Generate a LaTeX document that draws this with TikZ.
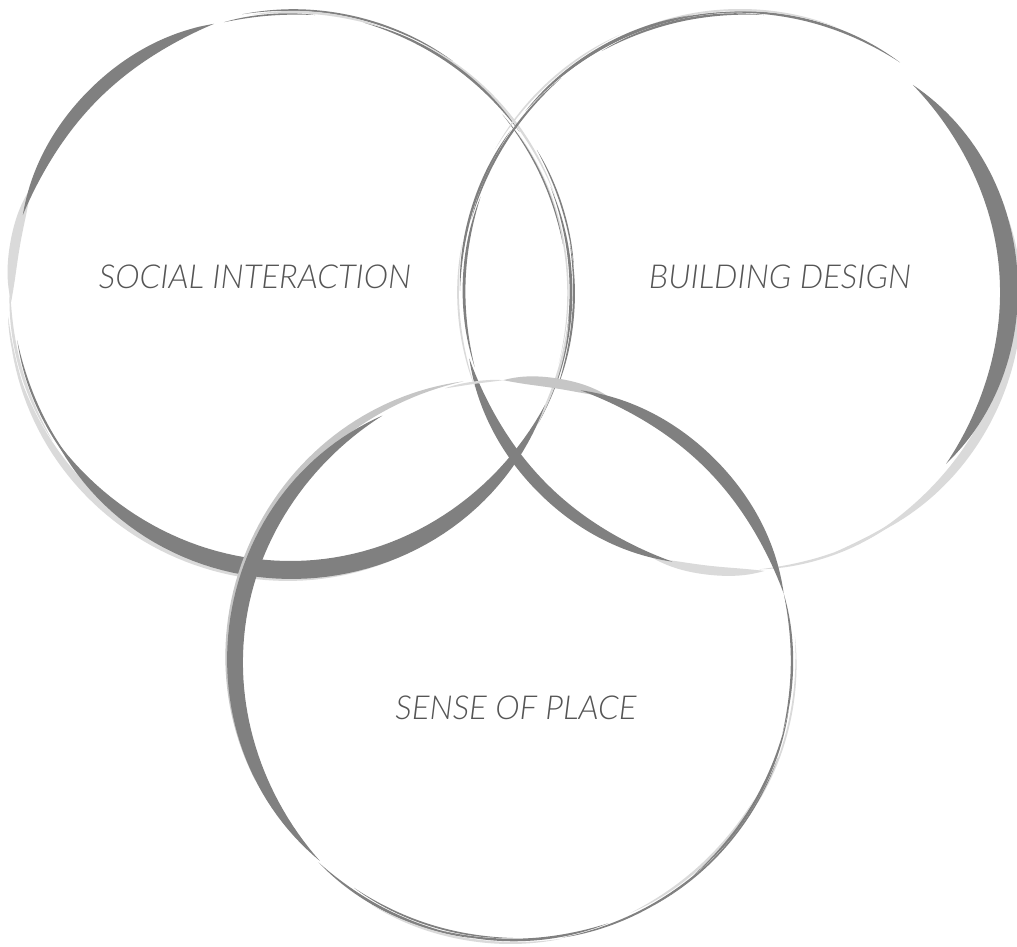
\documentclass[tikz,border=0pt]{standalone}
\usepackage{fontspec}
\newfontfamily\lblfont{Lato Light Italic}
\definecolor{brushdark}{HTML}{808080}
\definecolor{brushlight}{HTML}{DADADA}
\definecolor{brushmid}{HTML}{C6C6C6}
\definecolor{lbltext}{HTML}{555555}
% tapered brush stroke along a circle arc: cx, cy, R, a1, a2, width, colour
\newcommand{\brushstroke}[7]{%
  \fill[#7] plot[domain=#4:#5, samples=60, variable=\t]
    ({#1+(#3+0.5*#6*sin((\t-#4)/(#5-#4)*180)*(1.6-0.6*sin((\t-#4)/(#5-#4)*180)))*cos(\t)},
     {#2+(#3+0.5*#6*sin((\t-#4)/(#5-#4)*180)*(1.6-0.6*sin((\t-#4)/(#5-#4)*180)))*sin(\t)})
    -- plot[domain=#5:#4, samples=60, variable=\t]
    ({#1+(#3-0.5*#6*sin((\t-#4)/(#5-#4)*180)*(1.6-0.6*sin((\t-#4)/(#5-#4)*180)))*cos(\t)},
     {#2+(#3-0.5*#6*sin((\t-#4)/(#5-#4)*180)*(1.6-0.6*sin((\t-#4)/(#5-#4)*180)))*sin(\t)}) -- cycle;}
\tikzset{lbl/.style={font=\lblfont\fontsize{33}{40}\selectfont, text=lbltext, inner sep=0pt}}
\begin{document}
\begin{tikzpicture}[x=1pt,y=1pt]
\useasboundingbox (0,0) rectangle (1017,947);
\fill[white] (0,0) rectangle (1017,947);
% ---------- circle A : social interaction ----------
\foreach \r/\a/\b/\w/\c in {
  281/20/62/2.4/brushlight, 279/35/75/2.6/brushdark, 282/55/100/2/brushdark,
  280/70/98/2.4/brushlight, 278/85/104/1.6/brushdark, 280/108/114/2.4/brushlight,
  280/-28/22/2.8/brushdark, 283/-20/10/2/brushdark, 277/-15/35/1.6/brushlight,
  279/-32/-5/2.4/brushlight, 284/5/30/1.6/brushdark, 276/10/40/1.4/brushdark,
  281/178/212/2.8/brushlight, 278/190/222/2.2/brushdark, 284/185/200/1.8/brushlight}
  {\brushstroke{291}{655}{\r}{\a}{\b}{\w}{\c}}
\brushstroke{291}{655}{280}{158}{182}{10}{brushlight}
\brushstroke{291}{655}{279}{106}{164}{13}{brushdark}
\brushstroke{291}{655}{285}{192}{300}{9}{brushlight}
\brushstroke{291}{655}{278}{212}{336}{18}{brushdark}
% ---------- circle B : building design ----------
\foreach \r/\a/\b/\w/\c in {
  279/55/95/2.6/brushdark, 281/70/110/2/brushlight, 277/85/120/2.4/brushdark,
  280/100/140/2.8/brushdark, 283/115/150/1.8/brushlight, 278/130/165/2.2/brushdark,
  280/145/180/2.4/brushdark, 276/160/196/2.8/brushdark, 282/170/200/1.8/brushlight,
  279/88/130/1.6/brushdark, 279/274/300/2.4/brushlight, 278/290/305/2.6/brushlight}
  {\brushstroke{740}{656}{\r}{\a}{\b}{\w}{\c}}
\brushstroke{740}{656}{278}{-62}{15}{10}{brushlight}
\brushstroke{740}{656}{269}{-40}{50}{18}{brushdark}
\brushstroke{740}{656}{281}{252}{275}{9}{brushlight}
\brushstroke{740}{656}{279}{194}{256}{12}{brushdark}
% ---------- circle C : sense of place ----------
\foreach \r/\a/\b/\w/\c in {
  281/92/104/2.4/brushlight, 280/226/262/2.8/brushdark, 282/240/280/2.4/brushlight,
  279/255/290/2.6/brushdark, 281/280/315/2/brushdark, 278/295/330/2.4/brushlight,
  280/310/350/2.6/brushdark, 283/330/365/1.8/brushlight, 279/345/374/2.4/brushdark,
  277/235/270/1.8/brushdark, 282/300/340/1.6/brushdark}
  {\brushstroke{513}{286}{\r}{\a}{\b}{\w}{\c}}
\brushstroke{513}{286}{281}{70}{92}{10}{brushmid}
\brushstroke{513}{286}{279}{14}{76}{13}{brushdark}
\brushstroke{513}{286}{284}{100}{205}{9}{brushmid}
\brushstroke{513}{286}{278}{118}{226}{16}{brushdark}
% ---------- labels ----------
\node[lbl] (social) at (255,670) {SOCIAL INTERACTION};
\node[lbl] (building) at (780,670) {BUILDING DESIGN};
\node[lbl] (sense) at (516,239) {SENSE OF PLACE};
\end{tikzpicture}
\end{document}
